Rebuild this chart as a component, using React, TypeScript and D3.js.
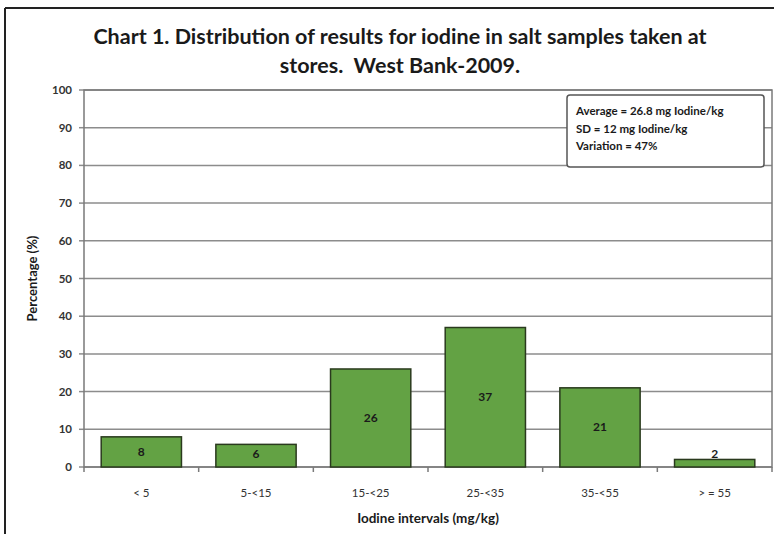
import React from "react";
import * as d3 from "d3";

const categories = ["< 5", "5-<15", "15-<25", "25-<35", "35-<55", "> = 55"];
const values = [8, 6, 26, 37, 21, 2];
const yTicks = [0, 10, 20, 30, 40, 50, 60, 70, 80, 90, 100];
const titleLines = ["Chart 1. Distribution of results for iodine in salt samples taken at", "stores.  West Bank-2009."];
const statsLines = ["Average = 26.8 mg Iodine/kg", "SD = 12 mg Iodine/kg", "Variation = 47%"];
const xTitle = "Iodine intervals (mg/kg)";
const yTitle = "Percentage (%)";

const W = 774, H = 534;
const plot = { left: 84, right: 772, top: 90, bottom: 467 };
const FONT = "Lato, 'Open Sans', sans-serif";

export default function App() {
  const x = d3.scaleBand<string>().domain(categories).range([plot.left, plot.right]).paddingInner(0.3).paddingOuter(0.15);
  const y = d3.scaleLinear().domain([0, 100]).range([plot.bottom, plot.top]);
  const bandStep = (plot.right - plot.left) / categories.length;
  const tickXs = d3.range(categories.length + 1).map(i => plot.left + i * bandStep);
  return (
    <svg width={W} height={H} style={{ position: "absolute", left: 0, top: 0, background: "#fff" }} fontFamily={FONT}>
      <rect x={0} y={0} width={W} height={H} fill="#fff" />
      {/* outer frame */}
      <line x1={5} y1={8} x2={W} y2={8} stroke="#222" strokeWidth={2} />
      <line x1={5} y1={8} x2={5} y2={H} stroke="#222" strokeWidth={2} />
      {titleLines.map((t, i) => (
        <text key={i} x={400} y={44 + i * 29} textAnchor="middle" fontSize={21.5} fontWeight="bold" fill="#1a1a1a" style={{ whiteSpace: "pre" }}>{t}</text>
      ))}
      {/* gridlines */}
      {yTicks.map(v => (
        <g key={v}>
          <line x1={plot.left} x2={plot.right} y1={y(v)} y2={y(v)} stroke="#8c8c8c" strokeWidth={1.5} />
          <line x1={plot.left - 5} x2={plot.left} y1={y(v)} y2={y(v)} stroke="#8c8c8c" strokeWidth={1.5} />
          <text x={72} y={y(v) + 4} textAnchor="end" fontSize={11.5} fontWeight="bold" fill="#333">{v}</text>
        </g>
      ))}
      <rect x={plot.left} y={plot.top} width={plot.right - plot.left} height={plot.bottom - plot.top} fill="none" stroke="#7a7a7a" strokeWidth={1.5} />
      {tickXs.map((tx, i) => (
        <line key={i} x1={tx} x2={tx} y1={plot.bottom} y2={plot.bottom + 5} stroke="#7a7a7a" strokeWidth={1.5} />
      ))}
      {/* bars */}
      {categories.map((c, i) => {
        const bx = x(c)!;
        const by = y(values[i]);
        const bh = plot.bottom - by;
        const ly = Math.min(by + bh / 2, plot.bottom - 13);
        return (
          <g key={c}>
            <rect x={bx} y={by} width={x.bandwidth()} height={bh} fill="#63a244" stroke="#2a3a1e" strokeWidth={1.5} />
            <text x={bx + x.bandwidth() / 2} y={ly + 4} textAnchor="middle" fontSize={12} fontWeight="bold" fill="#1a1a1a">{values[i]}</text>
            <text x={bx + x.bandwidth() / 2} y={497} textAnchor="middle" fontSize={11.5} fill="#333">{c}</text>
          </g>
        );
      })}
      <text x={428} y={523} textAnchor="middle" fontSize={13.5} fontWeight="bold" fill="#1a1a1a">{xTitle}</text>
      <text transform={`translate(37, ${(plot.top + plot.bottom) / 2}) rotate(-90)`} textAnchor="middle" fontSize={13} fontWeight="bold" fill="#1a1a1a">{yTitle}</text>
      {/* stats box */}
      <rect x={567} y={95} width={197} height={72} rx={3} fill="#fff" stroke="#555" strokeWidth={1.5} />
      {statsLines.map((t, i) => (
        <text key={i} x={576} y={115 + i * 17.5} fontSize={11.5} fontWeight="bold" fill="#1a1a1a">{t}</text>
      ))}
    </svg>
  );
}
